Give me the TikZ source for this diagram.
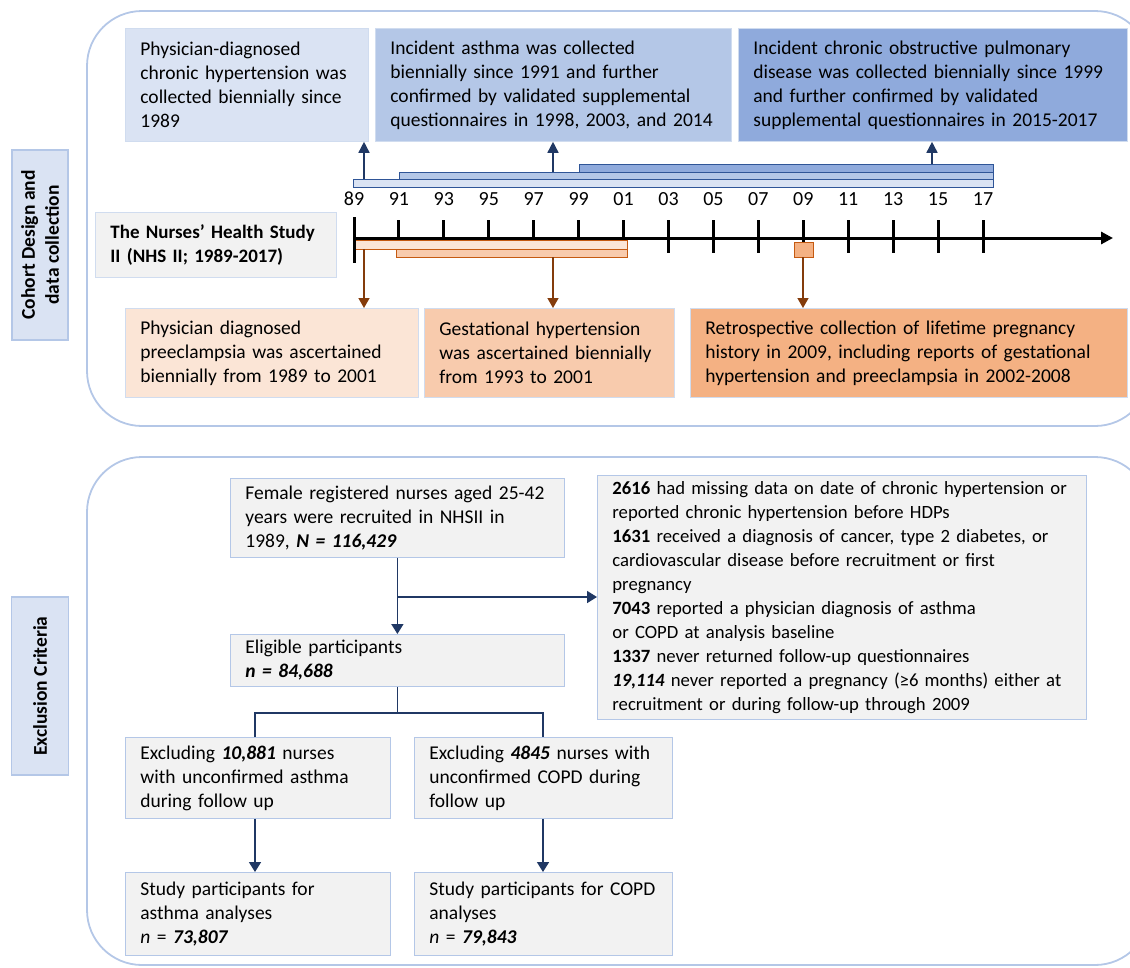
\documentclass[tikz,border=0pt]{standalone}
\usepackage{fontspec}
\setmainfont{Carlito}
\usetikzlibrary{arrows.meta}

\definecolor{blueA}{HTML}{DAE3F3}
\definecolor{blueB}{HTML}{B4C7E7}
\definecolor{blueC}{HTML}{8FAADC}
\definecolor{blueEdge}{HTML}{2F5597}
\definecolor{navy}{HTML}{203864}
\definecolor{peachA}{HTML}{FBE5D6}
\definecolor{peachB}{HTML}{F8CBAD}
\definecolor{peachC}{HTML}{F4B183}
\definecolor{rust}{HTML}{843C0C}
\definecolor{rustEdge}{HTML}{C55A11}
\definecolor{greyfill}{HTML}{F2F2F2}
\definecolor{boxline}{HTML}{D0DCEF}

\begin{document}
\begin{tikzpicture}[x=1pt,y=-1pt,
    txt/.style={font=\fontsize{19.5}{24}\selectfont},
    infobox/.style={txt, anchor=north west, align=left, inner xsep=15pt,
        inner ysep=0pt, draw=boxline, line width=0.8pt},
    flowbox/.style={infobox, fill=greyfill, draw=blueB},
    sidebox/.style={font=\fontsize{19.5}{24}\selectfont\bfseries, draw=blueB,
        fill=blueA, line width=1.5pt, rotate=90, align=center},
    panel/.style={draw=blueB, line width=1.8pt, rounded corners=55pt},
    navyarrow/.style={draw=navy, line width=1.6pt, -{Triangle[length=11pt,width=11pt]}},
    rustarrow/.style={draw=rust, line width=1.4pt, -{Triangle[length=10pt,width=11pt]}},
    flowline/.style={draw=navy, line width=1.6pt},
    flowarrow/.style={flowline, -{Triangle[length=10pt,width=12pt]}},
    bluebar/.style={draw=blueEdge, line width=0.8pt},
    rustbar/.style={draw=rustEdge, line width=0.8pt},
    yeartick/.style={line width=3pt},
    yearlbl/.style={font=\fontsize{20}{22}\selectfont}
]
\useasboundingbox (0,0) rectangle (1130,967);

% panels and side labels
\draw[panel] (87,11) rectangle (1150,426);
\draw[panel] (87,457) rectangle (1150,965);
\node[sidebox, minimum width=190pt, minimum height=56pt] (cohortlbl) at (40,245)
    {Cohort Design and\\data collection};
\node[sidebox, minimum width=178pt, minimum height=57pt] (exclbl) at (40,686)
    {Exclusion Criteria};

% outcome boxes
\node[infobox, fill=blueA, text width=213pt, minimum height=113pt] (chtn) at (125,28)
    {Physician-diagnosed\\chronic hypertension was\\collected biennially since\\1989};
\node[infobox, fill=blueB, text width=326pt, minimum height=113pt] (asth) at (375,28)
    {Incident asthma was collected\\biennially since 1991 and further\\confirmed by validated supplemental\\questionnaires in 1998, 2003, and 2014};
\node[infobox, fill=blueC, text width=359pt, minimum height=113pt] (copd) at (738,28)
    {Incident chronic obstructive pulmonary\\disease was collected biennially since 1999\\and further confirmed by validated\\supplemental questionnaires in 2015-2017};
\node[infobox, fill=greyfill, font=\fontsize{19}{24}\selectfont\bfseries,
    text width=211pt, minimum height=65pt] (nhs) at (95,212)
    {The Nurses’ Health Study\\II (NHS II; 1989-2017)};

% timeline
\foreach \yr [count=\i from 0] in {89,91,93,95,97,99,01,03,05,07,09,11,13,15,17}{
    \coordinate (t\i) at ({354+44.93*\i},238);
    \draw[yeartick] (t\i) ++(0,-18) -- ++(0,33);
    \path (t\i) ++(0,-39) node[yearlbl] {\yr};
}
\coordinate (axisend) at (1113,238);
\draw[line width=3pt, -{Triangle[length=12pt,width=12pt]}] (t0) -- (axisend);

\draw[bluebar, fill=blueC] (579,164) rectangle (993,172);
\draw[bluebar, fill=blueB] (399,172) rectangle (993,179);
\draw[bluebar, fill=blueA] (353,179) rectangle (993,187);
\draw[rustbar, fill=peachA] (355,240) rectangle (627,249);
\draw[rustbar, fill=peachB] (396,249) rectangle (627,257);
\draw[rustbar, fill=peachC] (794,242) rectangle (813,257);
\draw[yeartick] (t0) ++(0,-21) -- ++(0,46);

% pregnancy boxes
\node[infobox, fill=peachA, text width=263pt, minimum height=89pt] (pree) at (125,308)
    {Physician diagnosed\\preeclampsia was ascertained\\biennially from 1989 to 2001};
\node[infobox, fill=peachB, text width=220pt, minimum height=89pt] (gest) at (424,308)
    {Gestational hypertension\\was ascertained biennially\\from 1993 to 2001};
\node[infobox, fill=peachC, text width=407pt, minimum height=89pt] (retro) at (690,308)
    {Retrospective collection of lifetime pregnancy\\history in 2009, including reports of gestational\\hypertension and preeclampsia in 2002-2008};

\coordinate (up1) at (364,179);
\coordinate (up2) at (553,172);
\coordinate (up3) at (932,164);
\draw[navyarrow] (up1) -- (up1 |- chtn.south);
\draw[navyarrow] (up2) -- (up2 |- asth.south);
\draw[navyarrow] (up3) -- (up3 |- copd.south);
\coordinate (dn1) at (364,249);
\coordinate (dn2) at (553,257);
\coordinate (dn3) at (803,257);
\draw[rustarrow] (dn1) -- (dn1 |- pree.north);
\draw[rustarrow] (dn2) -- (dn2 |- gest.north);
\draw[rustarrow] (dn3) -- (dn3 |- retro.north);

% exclusion flow
\node[flowbox, text width=304pt, minimum height=79pt] (recruit) at (230,478)
    {Female registered nurses aged 25-42\\years were recruited in NHSII in\\1989, \textbf{\textit{N = 116,429}}};
\node[flowbox, text width=304pt, minimum height=52pt] (elig) at (230,634)
    {Eligible participants\\\textbf{\textit{n = 84,688}}};
\node[flowbox, font=\fontsize{18.7}{24}\selectfont, text width=459pt,
    minimum height=244pt] (excl) at (597,475)
    {\textbf{2616} had missing data on date of chronic hypertension or\\
     reported chronic hypertension before HDPs\\
     \textbf{1631} received a diagnosis of cancer, type 2 diabetes, or\\
     cardiovascular disease before recruitment or first\\
     pregnancy\\
     \textbf{7043} reported a physician diagnosis of asthma\\
     or COPD at analysis baseline\\
     \textbf{1337} never returned follow-up questionnaires\\
     \textbf{\textit{19,114}} never reported a pregnancy (≥6 months) either at\\
     recruitment or during follow-up through 2009};
\node[flowbox, text width=235pt, minimum height=81pt] (exasth) at (125,737)
    {Excluding \textbf{\textit{10,881}} nurses\\with unconfirmed asthma\\during follow up};
\node[flowbox, text width=228pt, minimum height=81pt] (excopd) at (414,737)
    {Excluding \textbf{\textit{4845}} nurses with\\unconfirmed COPD during\\follow up};
\node[flowbox, text width=235pt, minimum height=83pt] (stasth) at (125,872)
    {Study participants for\\asthma analyses\\\textit{n} = \textbf{\textit{73,807}}};
\node[flowbox, text width=228pt, minimum height=83pt] (stcopd) at (414,872)
    {Study participants for COPD\\analyses\\\textit{n} = \textbf{\textit{79,843}}};

\coordinate (split) at (recruit.south |- 0,597);
\coordinate (fork) at (elig.south |- 0,713);
\coordinate (forkL) at (255,713);
\coordinate (forkR) at (543,713);
\draw[flowarrow] (recruit.south) -- (elig.north);
\draw[flowarrow] (split) -- (split -| excl.west);
\draw[flowline] (elig.south) -- (fork);
\draw[flowline] (forkL |- exasth.north) -- (forkL) -- (forkR) -- (forkR |- excopd.north);
\draw[flowarrow] (forkL |- exasth.south) -- (forkL |- stasth.north);
\draw[flowarrow] (forkR |- excopd.south) -- (forkR |- stcopd.north);
\end{tikzpicture}
\end{document}
